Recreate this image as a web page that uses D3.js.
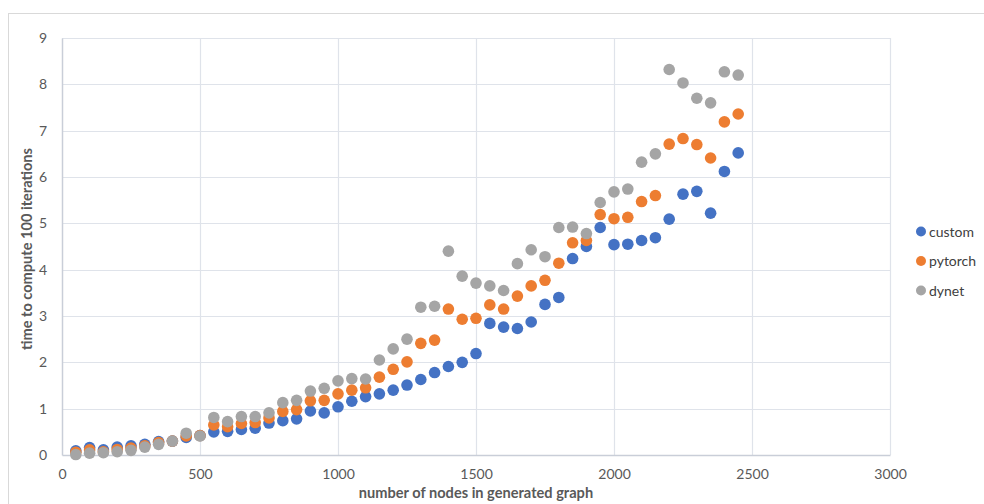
<!DOCTYPE html>
<html>
<head>
<meta charset="utf-8">
<script src="https://cdn.jsdelivr.net/npm/d3@7"></script>
<style>
  html, body { margin: 0; padding: 0; background: #fff; }
  svg { display: block; font-family: Lato, "Open Sans", "Liberation Sans", sans-serif; }
</style>
</head>
<body>
<svg id="chart" width="984" height="504"></svg>
<script>
const nodes = [50,100,150,200,250,300,350,400,450,500,550,600,650,700,750,800,850,900,950,1000,
  1050,1100,1150,1200,1250,1300,1350,1400,1450,1500,1550,1600,1650,1700,1750,1800,1850,1900,1950,2000,
  2050,2100,2150,2200,2250,2300,2350,2400,2450];

const custom = [0.09,0.16,0.11,0.17,0.20,0.23,0.29,0.30,0.38,0.42,0.50,0.51,0.55,0.58,0.69,0.74,0.78,0.95,0.91,1.04,
  1.16,1.26,1.32,1.40,1.51,1.63,1.78,1.91,2.00,2.19,2.84,2.76,2.73,2.87,3.25,3.40,4.24,4.50,4.91,4.54,
  4.55,4.63,4.69,5.09,5.63,5.69,5.22,6.12,6.52];

const pytorch = [0.06,0.11,0.07,0.12,0.15,0.20,0.27,0.30,0.41,0.42,0.65,0.61,0.68,0.70,0.80,0.94,0.98,1.17,1.18,1.32,
  1.40,1.45,1.68,1.85,2.01,2.41,2.48,3.15,2.93,2.95,3.24,3.15,3.43,3.65,3.77,4.14,4.58,4.63,5.19,5.10,
  5.13,5.47,5.60,6.71,6.83,6.70,6.41,7.19,7.36];

const dynet = [0.01,0.04,0.05,0.07,0.10,0.17,0.23,0.30,0.47,0.41,0.81,0.72,0.83,0.83,0.91,1.13,1.18,1.38,1.44,1.60,
  1.65,1.64,2.05,2.29,2.50,3.19,3.21,4.40,3.86,3.71,3.65,3.55,4.13,4.43,4.28,4.91,4.92,4.78,5.45,5.68,
  5.74,6.32,6.50,8.32,8.03,7.70,7.60,8.27,8.20];

const xTicks = [0,500,1000,1500,2000,2500,3000];
const yTicks = [0,1,2,3,4,5,6,7,8,9];

const seriesNames = ["custom","pytorch","dynet"];
const seriesColors = ["#4472C4","#ED7D31","#A5A5A5"];
const seriesData = [custom, pytorch, dynet];

(function () {
const svg = d3.select("#chart");
const W = 984, H = 504;
const pL = 62, pR = 890, pT = 38, pB = 455;

// outer chart border
svg.append("rect").attr("x", 8.5).attr("y", 13.5).attr("width", W + 10).attr("height", H + 10)
  .attr("fill", "none").attr("stroke", "#d9d9d9").attr("stroke-width", 1);

const x = d3.scaleLinear().domain([0, 3000]).range([pL, pR]);
const y = d3.scaleLinear().domain([0, 9]).range([pB, pT]);

// gridlines
const grid = svg.append("g");
grid.selectAll("line.h").data(yTicks.filter(d => d > 0)).join("line")
  .attr("x1", pL).attr("x2", pR)
  .attr("y1", d => Math.round(y(d)) + 0.5).attr("y2", d => Math.round(y(d)) + 0.5)
  .attr("stroke", "#dfe3ea").attr("stroke-width", 1.2);
grid.selectAll("line.v").data(xTicks.filter(d => d > 0)).join("line")
  .attr("y1", pT).attr("y2", pB)
  .attr("x1", d => Math.round(x(d)) + 0.5).attr("x2", d => Math.round(x(d)) + 0.5)
  .attr("stroke", "#dfe3ea").attr("stroke-width", 1.2);

// axes
const xAxis = d3.axisBottom(x).tickValues(xTicks).tickFormat(d3.format("d")).tickSize(0).tickPadding(14);
const yAxis = d3.axisLeft(y).tickValues(yTicks).tickFormat(d3.format("d")).tickSize(0).tickPadding(15);

const gx = svg.append("g").attr("transform", `translate(0,${pB})`).call(xAxis);
const gy = svg.append("g").attr("transform", `translate(${pL},0)`).call(yAxis);
[gx, gy].forEach(g => {
  g.select(".domain").attr("stroke", "#c9ced8").attr("stroke-width", 1.5);
  g.selectAll("text").attr("fill", "#595959").attr("font-size", 14).attr("font-family", "Lato, 'Open Sans', sans-serif");
});

// points
seriesData.forEach((vals, si) => {
  svg.append("g").selectAll("circle").data(nodes.map((n, i) => [n, vals[i]])).join("circle")
    .attr("cx", d => x(d[0])).attr("cy", d => y(d[1])).attr("r", 5.8)
    .attr("fill", seriesColors[si]);
});

// axis titles
svg.append("text").attr("x", (pL + pR) / 2).attr("y", 498)
  .attr("text-anchor", "middle").attr("font-size", 14.6).attr("font-weight", "bold")
  .attr("fill", "#595959").text("number of nodes in generated graph");
svg.append("text").attr("transform", `translate(32,${249}) rotate(-90)`)
  .attr("text-anchor", "middle").attr("font-size", 14.6).attr("font-weight", "bold")
  .attr("fill", "#595959").text("time to compute 100 iterations");

// legend
const lg = svg.append("g");
seriesNames.forEach((name, i) => {
  const ly = 231.5 + i * 29.5;
  lg.append("circle").attr("cx", 921).attr("cy", ly).attr("r", 5).attr("fill", seriesColors[i]);
  lg.append("text").attr("x", 929).attr("y", ly + 5).attr("font-size", 14)
    .attr("fill", "#404040").text(name);
});
})();
</script>
</body>
</html>
